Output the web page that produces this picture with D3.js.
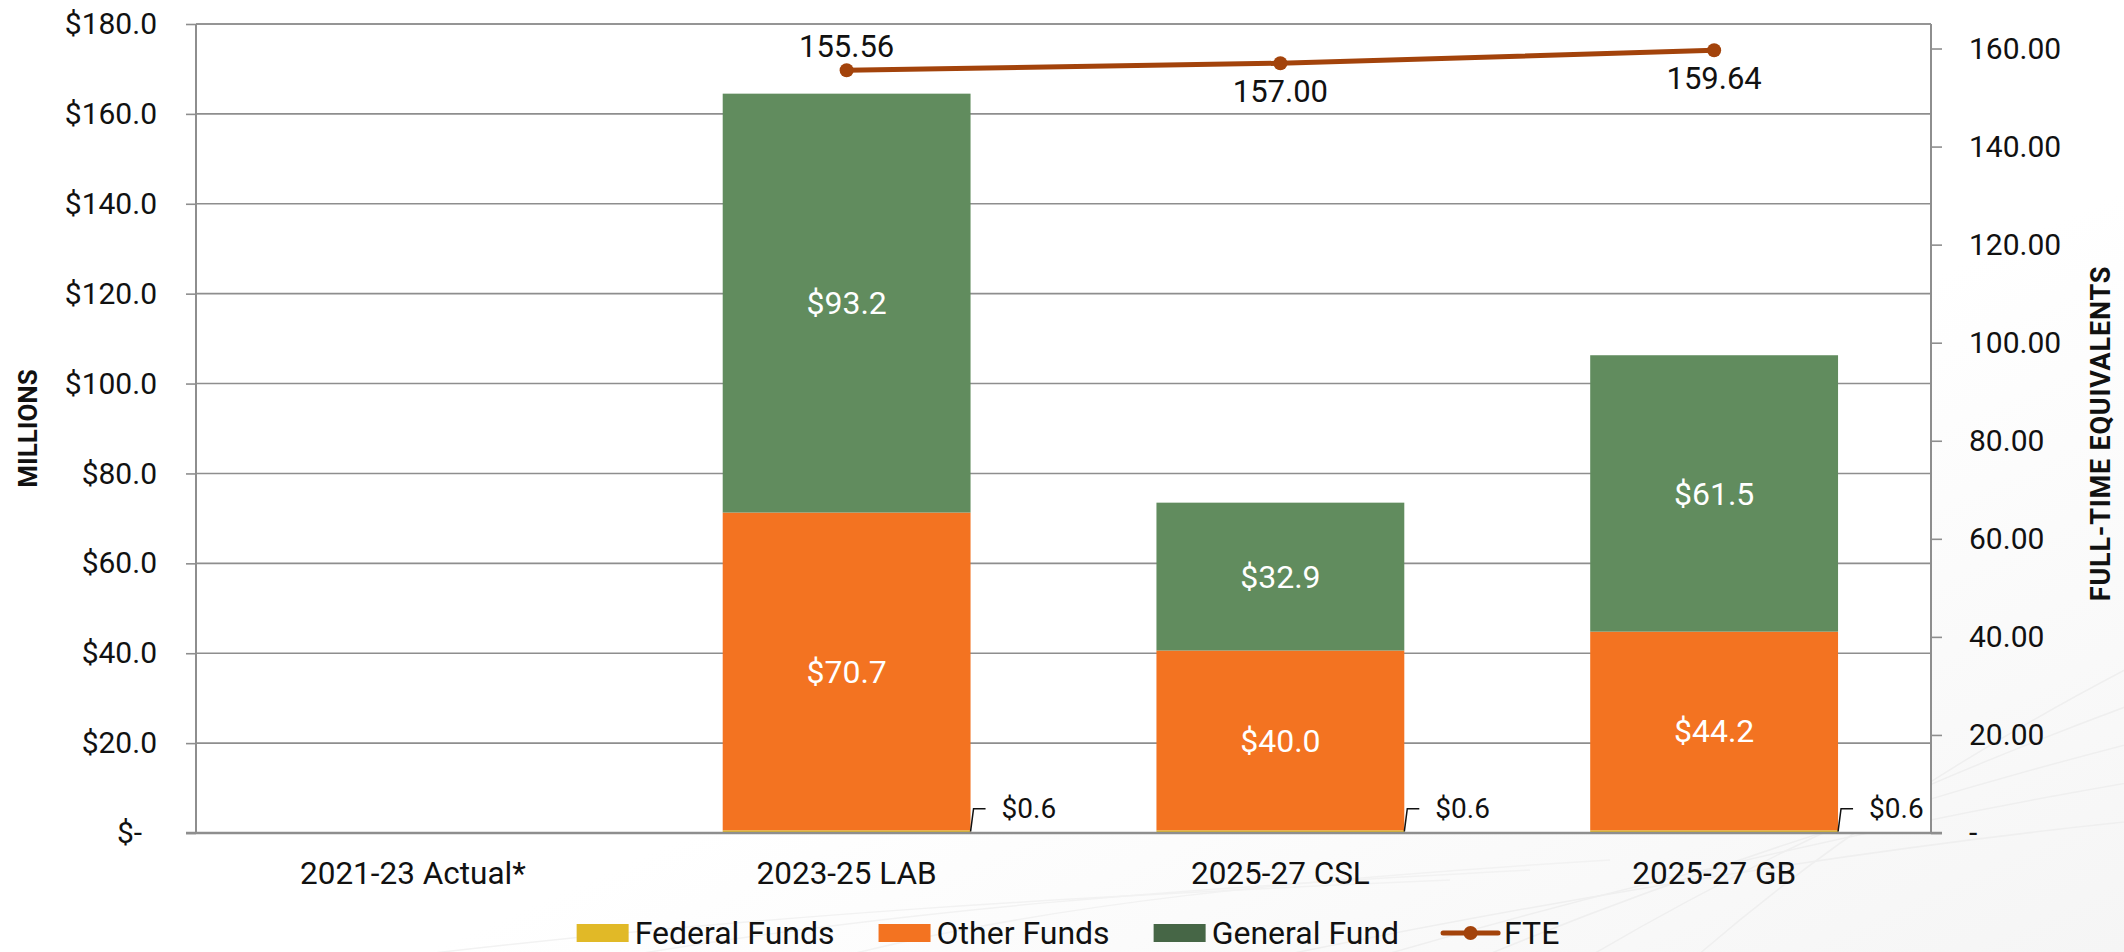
<!DOCTYPE html>
<html>
<head>
<meta charset="utf-8">
<script src="https://cdn.jsdelivr.net/npm/d3@7"></script>
<style>
  html, body { margin: 0; padding: 0; background: #fff; }
  svg { display: block; font-family: Roboto, "Noto Sans", sans-serif; }
</style>
</head>
<body>
<svg id="chart" width="2124" height="952"></svg>
<script>
// chart data
const categories = ['2021-23 Actual*', '2023-25 LAB', '2025-27 CSL', '2025-27 GB'];
const federalFunds = [null, 0.6, 0.6, 0.6];
const otherFunds = [null, 70.7, 40.0, 44.2];
const generalFund = [null, 93.2, 32.9, 61.5];
const fte = [null, 155.56, 157.00, 159.64];
const fteLabelSide = [null, 'above', 'below', 'below'];
const moneyTicks = [0, 20, 40, 60, 80, 100, 120, 140, 160, 180];
const fteTicks = [0, 20, 40, 60, 80, 100, 120, 140, 160];
const seriesNames = ['Federal Funds', 'Other Funds', 'General Fund'];

const W = 2124, H = 952;
const plot = { left: 196, right: 1931, top: 24, bottom: 833 };
const colors = {
    federal: '#E1B927',
    other: '#F37321',
    general: '#618C5E',
    generalKey: '#466646',
    fte: '#A3430B',
    grid: '#8E8E8E'
};

const svg = d3.select('#chart');

// faint background swirl in lower right
const defs = svg.append('defs');
const grad = defs.append('linearGradient')
    .attr('id', 'bg').attr('x1', '0').attr('y1', '0').attr('x2', '1').attr('y2', '1');
grad.append('stop').attr('offset', '0.6').attr('stop-color', '#ffffff');
grad.append('stop').attr('offset', '1').attr('stop-color', '#f5f5f5');
svg.append('rect').attr('width', W).attr('height', H).attr('fill', 'url(#bg)');

const swirl = svg.append('g').attr('fill', 'none').attr('stroke', '#efefef').attr('stroke-width', 1.5);
[0, 1, 2, 3, 4].forEach(i => {
    swirl.append('path')
        .attr('d', `M ${1250 + i * 110} ${H + 10} C ${1550 + i * 70} ${900 - i * 15}, ${1850 + i * 30} ${850 - i * 25}, ${W + 20} ${820 - i * 40}`);
});
[0, 1, 2].forEach(i => {
    swirl.append('path')
        .attr('d', `M ${400 + i * 220} ${H + 5} C ${750 + i * 150} ${915 - i * 6}, ${1100 + i * 100} ${895 - i * 8}, ${1450 + i * 80} ${880 - i * 10}`)
        .attr('stroke', '#f2f2f2');
});

const x = d3.scaleBand()
    .domain(categories)
    .range([plot.left, plot.right])
    .paddingInner(0.4286)
    .paddingOuter(0.2143);

const y = d3.scaleLinear().domain([0, 180]).range([plot.bottom, plot.top]);
const yR = d3.scaleLinear().domain([0, 165]).range([plot.bottom, plot.top]);

// white plot area
svg.append('rect')
    .attr('x', plot.left).attr('y', plot.top)
    .attr('width', plot.right - plot.left).attr('height', plot.bottom - plot.top)
    .attr('fill', '#fff');

// gridlines
svg.append('g')
    .selectAll('line')
    .data(moneyTicks.slice(1))
    .enter().append('line')
    .attr('x1', plot.left)
    .attr('x2', plot.right)
    .attr('y1', d => y(d))
    .attr('y2', d => y(d))
    .attr('stroke', colors.grid)
    .attr('stroke-width', 1.6);

// stacked bars
const rows = categories.map((c, i) => ({
    cat: c,
    federal: federalFunds[i],
    other: otherFunds[i],
    general: generalFund[i]
})).filter(d => d.federal !== null);

const stack = d3.stack().keys(['federal', 'other', 'general']);
const layers = stack(rows);
const fills = [colors.federal, colors.other, colors.general];

layers.forEach((layer, li) => {
    svg.append('g')
        .selectAll('rect')
        .data(layer)
        .enter().append('rect')
        .attr('x', d => x(d.data.cat))
        .attr('width', x.bandwidth())
        .attr('y', d => y(d[1]))
        .attr('height', d => y(d[0]) - y(d[1]))
        .attr('fill', fills[li]);
});

// in-bar labels for other and general
layers.slice(1).forEach(layer => {
    svg.append('g')
        .selectAll('text')
        .data(layer)
        .enter().append('text')
        .attr('x', d => x(d.data.cat) + x.bandwidth() / 2)
        .attr('y', d => (y(d[0]) + y(d[1])) / 2)
        .attr('dy', '0.35em')
        .attr('text-anchor', 'middle')
        .attr('fill', '#fff')
        .style('font-size', '32px')
        .text(d => '$' + (d[1] - d[0]).toFixed(1));
});

// federal labels with leader lines
const fed = layers[0];
const fedG = svg.append('g').selectAll('g').data(fed).enter().append('g');
fedG.append('path')
    .attr('d', d => {
        const bx = x(d.data.cat) + x.bandwidth();
        const by = (y(d[0]) + y(d[1])) / 2;
        return `M ${bx} ${by} L ${bx + 3} ${by - 23} L ${bx + 15} ${by - 23}`;
    })
    .attr('fill', 'none')
    .attr('stroke', '#111')
    .attr('stroke-width', 1.5);
fedG.append('text')
    .attr('x', d => x(d.data.cat) + x.bandwidth() + 31)
    .attr('y', d => (y(d[0]) + y(d[1])) / 2 - 14)
    .style('font-size', '28px')
    .attr('fill', '#111')
    .text(d => '$' + (d[1] - d[0]).toFixed(1));

// axes
const leftAxis = svg.append('g')
    .attr('transform', `translate(${plot.left},0)`)
    .call(d3.axisLeft(y)
        .tickValues(moneyTicks)
        .tickSize(10)
        .tickPadding(29)
        .tickFormat(v => v === 0 ? '$-\u00A0\u00A0' : '$' + v.toFixed(1)));

const rightAxis = svg.append('g')
    .attr('transform', `translate(${plot.right},0)`)
    .call(d3.axisRight(yR)
        .tickValues(fteTicks)
        .tickSize(11)
        .tickPadding(27)
        .tickFormat(v => v === 0 ? '-' : v.toFixed(2)));

const bottomAxis = svg.append('g')
    .attr('transform', `translate(0,${plot.bottom})`)
    .call(d3.axisBottom(x).tickSize(0).tickPadding(29));

[leftAxis, rightAxis, bottomAxis].forEach(g => {
    g.select('.domain').attr('stroke', colors.grid).attr('stroke-width', 2);
    g.selectAll('.tick line').attr('stroke', colors.grid).attr('stroke-width', 1.6);
    g.selectAll('.tick text')
        .attr('fill', '#111')
        .style('font-size', '30px')
        .style('font-family', 'Roboto, sans-serif');
});
bottomAxis.selectAll('.tick text').style('font-size', '31.5px');
leftAxis.select('.domain').attr('d', `M0,${plot.top}V${plot.bottom}`);
rightAxis.select('.domain').attr('d', `M0,${plot.top}V${plot.bottom}`);
bottomAxis.select('.domain').attr('d', `M${plot.left - 10},0H${plot.right + 11}`).attr('stroke-width', 2.5);

// top border line at 180 extends to the left tick
svg.append('line')
    .attr('x1', plot.left).attr('x2', plot.right)
    .attr('y1', plot.top).attr('y2', plot.top)
    .attr('stroke', colors.grid).attr('stroke-width', 1.6);

// axis titles
svg.append('text')
    .attr('transform', `translate(37,${(plot.top + plot.bottom) / 2}) rotate(-90)`)
    .attr('text-anchor', 'middle')
    .style('font-size', '26px')
    .style('font-weight', 'bold')
    .attr('fill', '#111')
    .text('MILLIONS');

svg.append('text')
    .attr('transform', `translate(2110,${(plot.top + plot.bottom) / 2 + 5}) rotate(-90)`)
    .attr('text-anchor', 'middle')
    .style('font-size', '27px')
    .style('font-weight', 'bold')
    .style('letter-spacing', '0.8px')
    .attr('fill', '#111')
    .text('FULL-TIME EQUIVALENTS');

// FTE line
const ftePts = categories.map((c, i) => ({ cat: c, v: fte[i], side: fteLabelSide[i] }))
    .filter(d => d.v !== null);

const line = d3.line()
    .x(d => x(d.cat) + x.bandwidth() / 2)
    .y(d => yR(d.v));

svg.append('path')
    .datum(ftePts)
    .attr('d', line)
    .attr('fill', 'none')
    .attr('stroke', colors.fte)
    .attr('stroke-width', 5)
    .attr('stroke-linecap', 'round');

svg.append('g')
    .selectAll('circle')
    .data(ftePts)
    .enter().append('circle')
    .attr('cx', d => x(d.cat) + x.bandwidth() / 2)
    .attr('cy', d => yR(d.v))
    .attr('r', 7)
    .attr('fill', colors.fte);

svg.append('g')
    .selectAll('text')
    .data(ftePts)
    .enter().append('text')
    .attr('x', d => x(d.cat) + x.bandwidth() / 2)
    .attr('y', d => yR(d.v) + (d.side === 'above' ? -13 : 39))
    .attr('text-anchor', 'middle')
    .style('font-size', '31px')
    .attr('fill', '#111')
    .text(d => d.v.toFixed(2));

// legend
const legendItems = [
    { name: seriesNames[0], type: 'box', color: colors.federal },
    { name: seriesNames[1], type: 'box', color: colors.other },
    { name: seriesNames[2], type: 'box', color: colors.generalKey },
    { name: 'FTE', type: 'line', color: colors.fte }
];

const legend = svg.append('g');
let cursor = 0;
legendItems.forEach((item, i) => {
    const g = legend.append('g').attr('transform', `translate(${cursor},0)`);
    let keyW;
    if (item.type === 'box') {
        keyW = 52;
        g.append('rect').attr('x', 0).attr('y', -9).attr('width', keyW).attr('height', 18).attr('fill', item.color);
    } else {
        keyW = 55;
        g.append('line').attr('x1', 0).attr('x2', keyW).attr('y1', 0).attr('y2', 0)
            .attr('stroke', item.color).attr('stroke-width', 5).attr('stroke-linecap', 'round');
        g.append('circle').attr('cx', keyW / 2).attr('cy', 0).attr('r', 7).attr('fill', item.color);
    }
    const t = g.append('text')
        .attr('x', keyW + 6)
        .attr('dy', '0.33em')
        .style('font-size', '32px')
        .attr('fill', '#111')
        .text(item.name);
    cursor += keyW + 6 + t.node().getComputedTextLength() + 44;
});
const legendW = cursor - 44;
legend.attr('transform', `translate(${1068 - legendW / 2},933)`);
</script>
</body>
</html>
